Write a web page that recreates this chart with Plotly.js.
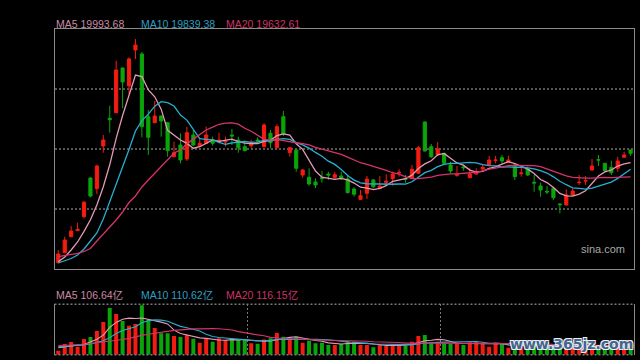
<!DOCTYPE html>
<html><head><meta charset="utf-8">
<script src="https://cdn.plot.ly/plotly-3.0.1.min.js"></script>
<style>html,body{margin:0;padding:0;background:#000;}#chart{width:640px;height:360px;}</style>
</head><body><div id="chart"></div>
<script>
// ---- price data ----
const open = [17488,17738,18138,18288,18638,19605,19338,20405,21098,21238,
  22355,21905,22805,22705,21138,20988,21155,20988,20138,20430,
  20080,20680,20412,20472,20555,20505,20505,20680,20555,20388,
  20412,20555,20388,20722,20362,21138,20238,20305,19680,19622,
  19505,19612,19705,19622,19655,19580,19330,19072,19222,19555,
  19348,19488,19588,19730,19588,19598,19722,21005,20388,20180,
  20222,19930,19672,19880,19612,19705,19830,19930,20042,20112,
  19998,19930,19712,19830,19498,19405,19272,19348,18955,18930,
  19180,19488,19530,19805,20062,19972,19872,19848,20122,20305];
const high = [17805,18138,18405,18488,19030,19618,19938,20680,21412,22538,
  22368,22622,23080,22755,21305,21530,21168,21005,20512,20722,
  20888,20805,20598,20888,20638,20738,20638,20830,20638,20512,
  20555,20622,20972,20805,20948,21280,20380,20318,19830,19848,
  19598,19780,19762,19762,19762,19680,19372,19305,19655,19580,
  19655,19698,19762,19822,19680,19930,20405,21018,20455,20505,
  20230,20012,19905,19930,19848,19848,19930,20155,20155,20180,
  20162,19955,19872,19888,19680,19488,19405,19388,18972,19322,
  19348,19680,19655,20080,20180,19988,20038,20138,20262,20305];
const low = [17472,17722,18122,18280,18598,19122,19205,20238,20738,21222,
  21348,21705,22580,20622,20180,20972,20638,20138,20122,19972,
  20030,20405,20388,20455,20412,20472,20392,20430,20238,20272,
  20348,20455,20372,20348,20348,20655,20138,19762,19612,19412,
  19355,19488,19555,19572,19555,19222,19138,19055,19080,19348,
  19322,19430,19412,19638,19488,19588,19705,20268,20105,20162,
  19955,19722,19638,19788,19598,19680,19762,19922,19972,19972,
  19988,19555,19638,19655,19262,19138,19205,19055,18722,18918,
  19155,19430,19430,19788,19905,19762,19680,19762,20122,20155];
const close = [17705,18055,18280,18322,18998,19155,19905,20555,21062,22305,
  22005,22580,22930,20888,20622,21155,21030,20288,20238,20055,
  20738,20430,20472,20680,20472,20555,20522,20655,20362,20288,
  20498,20530,20930,20488,20888,20705,20362,19848,19805,19455,
  19430,19588,19680,19688,19588,19238,19198,19162,19580,19388,
  19405,19530,19705,19748,19572,19822,20362,20280,20138,20330,
  19972,19780,19688,19862,19705,19738,19872,20055,20055,20030,
  20055,19638,19730,19680,19480,19305,19255,19112,18938,19180,
  19280,19498,19538,19905,20055,19788,19738,20030,20180,20222];
// moving-average values before a full window exists
const ma5Head = [17512,17630,17805,18005];
const ma10Head = [17480,17530,17592,17680,17830,18030,18230,18580,19005];
const ma20Head = [17638,17660,17692,17722,17768,17842,18030,18205,18355,18555,
  18755,18992,19155,19380,19555,19730,19905,20055,20230];

// ---- volume data (亿) ----
const volume = [53,141,167,106,207,233,312,431,616,537,
  444,383,405,651,458,352,282,282,246,233,
  260,211,158,211,172,216,194,202,194,194,
  150,145,202,216,286,238,202,238,158,185,
  150,158,128,128,141,180,172,128,128,97,
  136,119,136,128,114,172,246,260,158,172,
  150,141,150,128,163,172,150,106,158,141,
  92,128,106,114,132,123,97,132,119,150,
  114,97,88,123,106,97,114,110,97,114];
const volMa5Head = [92,100,114,125];
const volMa10Head = [106,110,115,120,128,140,158,185,225];
const volMa20Head = [119,123,127,131,136,145,158,168,176,185,
  200,215,240,255,270,285,298,310,320];

const priceLabels = ["MA5 19993.68","MA10 19839.38","MA20 19632.61"];
const volLabels = ["MA5 106.64亿","MA10 110.62亿","MA20 116.15亿"];

const days = close.map((_, i) => i);
function movingAverage(values, win, head) {
  return values.map((v, i) => {
    if (i < win - 1) return head[i];
    let s = 0;
    for (let k = i - win + 1; k <= i; k++) s += values[k];
    return s / win;
  });
}
const UP = '#f41c10', DOWN = '#0aa50a';
const C5 = '#e49ab6', C10 = '#26afd0', C20 = '#d4336c';
const T5 = '#c98aa4', T10 = '#2c9fc0', T20 = '#cc3466';

const barColors = close.map((c, i) => c >= open[i] ? UP : DOWN);

const traces = [
  {type:'candlestick', x:days, open:open, high:high, low:low, close:close,
   xaxis:'x', yaxis:'y', whiskerwidth:0, hoverinfo:'skip',
   increasing:{line:{color:UP, width:1}, fillcolor:UP},
   decreasing:{line:{color:DOWN, width:1}, fillcolor:DOWN}},
  {type:'scatter', mode:'lines', x:days, y:movingAverage(close,5,ma5Head), line:{color:C5, width:1.3}, xaxis:'x', yaxis:'y'},
  {type:'scatter', mode:'lines', x:days, y:movingAverage(close,10,ma10Head), line:{color:C10, width:1.3}, xaxis:'x', yaxis:'y'},
  {type:'scatter', mode:'lines', x:days, y:movingAverage(close,20,ma20Head), line:{color:C20, width:1.3}, xaxis:'x', yaxis:'y'},
  {type:'bar', x:days, y:volume, marker:{color:barColors, line:{width:0}}, xaxis:'x2', yaxis:'y2'},
  {type:'scatter', mode:'lines', x:days, y:movingAverage(volume,5,volMa5Head), line:{color:C5, width:1.1}, xaxis:'x2', yaxis:'y2'},
  {type:'scatter', mode:'lines', x:days, y:movingAverage(volume,10,volMa10Head), line:{color:C10, width:1.1}, xaxis:'x2', yaxis:'y2'},
  {type:'scatter', mode:'lines', x:days, y:movingAverage(volume,20,volMa20Head), line:{color:C20, width:1.1}, xaxis:'x2', yaxis:'y2'}
];

const xDom = [54.5/640, 634/640];
const xRange = [-0.59, 89.53];
const labelFont = (c) => ({family:'Liberation Sans, Arial, Noto Sans CJK SC, sans-serif', size:10.5, color:c});
function label(text, px, py, color) {
  return {text:text, xref:'paper', yref:'paper', x:px/640, y:1-py/360,
    xanchor:'left', yanchor:'middle', showarrow:false, font:labelFont(color)};
}

const layout = {
  width:640, height:360, margin:{l:0,r:0,t:0,b:0},
  paper_bgcolor:'#000', plot_bgcolor:'#000',
  showlegend:false, hovermode:false, dragmode:false, bargap:0.38,
  xaxis:{domain:xDom, range:xRange, anchor:'y', showgrid:false, showticklabels:false,
    ticks:'', zeroline:false, showline:true, mirror:true, linecolor:'#8a8a8a', linewidth:1,
    rangeslider:{visible:false}, fixedrange:true},
  yaxis:{domain:[0.2519,0.9186], range:[17322,23322], anchor:'x', tick0:18830, dtick:1500,
    showticklabels:false, ticks:'', showgrid:true, gridcolor:'#555555', griddash:'2px,2px',
    gridwidth:1.5, zeroline:false, showline:true, mirror:true, linecolor:'#8a8a8a', linewidth:1, fixedrange:true},
  xaxis2:{domain:xDom, range:xRange, anchor:'y2', showticklabels:false, ticks:'',
    tickmode:'array', tickvals:[29.5,59.5], showgrid:true, gridcolor:'#7a7a7a',
    griddash:'2px,2px', gridwidth:1, zeroline:false, showline:false, fixedrange:true},
  yaxis2:{domain:[0.0147,0.1547], range:[0,664], anchor:'x2', showgrid:false,
    showticklabels:false, ticks:'', zeroline:false, showline:true, mirror:true,
    linecolor:'#8a8a8a', linewidth:1, fixedrange:true},
  shapes:[
    {type:'line', xref:'x2 domain', yref:'y2 domain', x0:0, x1:1, y0:1, y1:1,
     line:{color:'#7a7a7a', width:1.5, dash:'2px,2px'}},
    {type:'line', xref:'x2 domain', yref:'y2 domain', x0:0, x1:1, y0:0, y1:0,
     line:{color:'#7a7a7a', width:1.5, dash:'2px,2px'}}
  ],
  annotations:[
    label(priceLabels[0], 54, 24, T5),
    label(priceLabels[1], 139, 24, T10),
    label(priceLabels[2], 224, 24, T20),
    label(volLabels[0], 54, 295, T5),
    label(volLabels[1], 139, 295, T10),
    label(volLabels[2], 224, 295, T20),
    {text:'sina.com', xref:'paper', yref:'paper', x:603/640, y:1-249/360, xanchor:'center', yanchor:'middle',
     showarrow:false, font:{family:'Liberation Sans, Arial, sans-serif', size:11, color:'#a8a8a8'}},
    {text:'www.365jz.com', xref:'paper', yref:'paper', x:571/640, y:1-344/360, xanchor:'center', yanchor:'middle',
     showarrow:false, font:{family:'Liberation Sans Narrow, DejaVu Sans, sans-serif', size:14,
     weight:'bold', color:'#45648c', shadow:'1px 1px 0 #e8eef5, -1px -1px 0 #e8eef5, 1px -1px 0 #e8eef5, -1px 1px 0 #e8eef5'}}
  ]
};

Plotly.newPlot('chart', traces, layout, {staticPlot:true, displayModeBar:false});
</script>
</body></html>
